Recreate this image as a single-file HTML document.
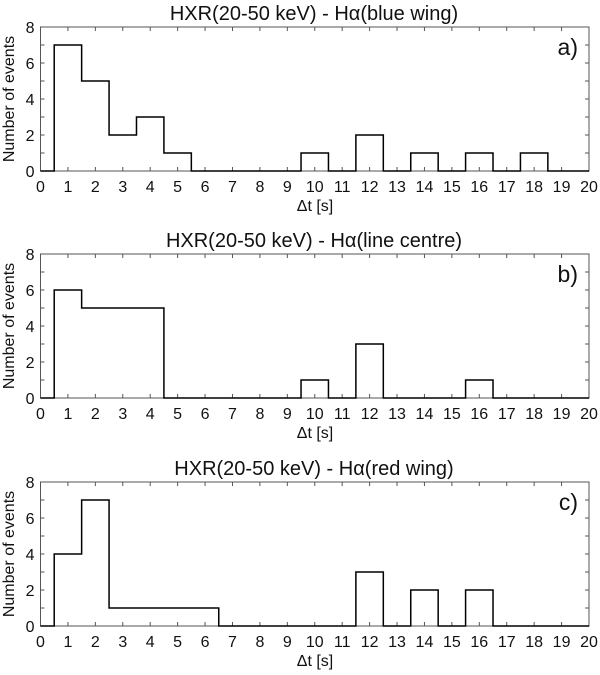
<!DOCTYPE html>
<html><head><meta charset="utf-8"><style>
body{margin:0;background:#fff;width:600px;height:670px;overflow:hidden}
svg text{font-family:"Liberation Sans",sans-serif;fill:#111}
</style></head><body>
<svg id="fig" width="600" height="670"></svg>
<script>
const binCenters=[0,1,2,3,4,5,6,7,8,9,10,11,12,13,14,15,16,17,18,19,20];
const countsBlue=[0,7,5,2,3,1,0,0,0,0,1,0,2,0,1,0,1,0,1,0,0];
const countsCentre=[0,6,5,5,5,0,0,0,0,0,1,0,3,0,0,0,1,0,0,0,0];
const countsRed=[0,4,7,1,1,1,1,0,0,0,0,0,3,0,2,0,2,0,0,0,0];
const xTicks=[0,1,2,3,4,5,6,7,8,9,10,11,12,13,14,15,16,17,18,19,20];
const yTicks=[0,2,4,6,8];
const titles=["HXR(20-50 keV) - H\u03b1(blue wing)","HXR(20-50 keV) - H\u03b1(line centre)","HXR(20-50 keV) - H\u03b1(red wing)"];
const panelLabels=["a)","b)","c)"];
const svg=document.getElementById('fig');
const NS='http://www.w3.org/2000/svg';
function mk(tag,attrs,parent){const e=document.createElementNS(NS,tag);for(const k in attrs)e.setAttribute(k,attrs[k]);(parent||svg).appendChild(e);return e;}
const L=40.5,R=589;
const tops=[27,254,482];
const H=144;
const series=[countsBlue,countsCentre,countsRed];
const names=['blue-wing','line-centre','red-wing'];
for(let p=0;p<3;p++){
  const T=tops[p],B=T+H;
  const g=mk('g',{});
  
  
  const x=v=>L+(v-0)/(20-0)*(R-L);
  const y=v=>B-v/8*H;
  const box=mk('rect',{x:L,y:T,width:R-L,height:H,fill:'none',stroke:'#555','stroke-width':1},g);
  
  
  xTicks.forEach(t=>{
    mk('line',{x1:x(t),x2:x(t),y1:B,y2:B-4,stroke:'#555'},g);
    mk('line',{x1:x(t),x2:x(t),y1:T,y2:T+4,stroke:'#555'},g);
    const tx=mk('text',{x:x(t),y:B+21,'text-anchor':'middle','font-size':16},g);
    tx.textContent=t;
    
    
  });
  for(let v=0;v<=8;v++){
    mk('line',{x1:L,x2:L+4,y1:y(v),y2:y(v),stroke:'#555'},g);
    mk('line',{x1:R,x2:R-4,y1:y(v),y2:y(v),stroke:'#555'},g);
  }
  yTicks.forEach(t=>{
    const ty=mk('text',{x:L-6,y:y(t)+6,'text-anchor':'end','font-size':16},g);
    ty.textContent=t;
    
    
  });
  const c=series[p];
  let d='M'+x(binCenters[0])+','+y(c[0]);
  for(let i=0;i<binCenters.length;i++){
    const lo=Math.max(0,binCenters[i]-0.5),hi=Math.min(20,binCenters[i]+0.5);
    d+=' L'+x(lo)+','+y(c[i])+' L'+x(hi)+','+y(c[i]);
  }
  const path=mk('path',{d:d,fill:'none',stroke:'#000','stroke-width':1.5},g);
  
  
  const tt=mk('text',{x:314,y:T-7,'text-anchor':'middle','font-size':20},g);
  tt.textContent=titles[p];
  
  
  const pl=mk('text',{x:578,y:T+28,'text-anchor':'end','font-size':23},g);
  pl.textContent=panelLabels[p];
  
  
  const xl=mk('text',{x:315,y:B+40,'text-anchor':'middle','font-size':16},g);
  xl.textContent='\u0394t [s]';
  
  
  const yl=mk('text',{x:0,y:0,'text-anchor':'middle','font-size':16,transform:'translate(14,'+(T+H/2)+') rotate(-90)'},g);
  yl.textContent='Number of events';
  
  
}
</script>
</body></html>
